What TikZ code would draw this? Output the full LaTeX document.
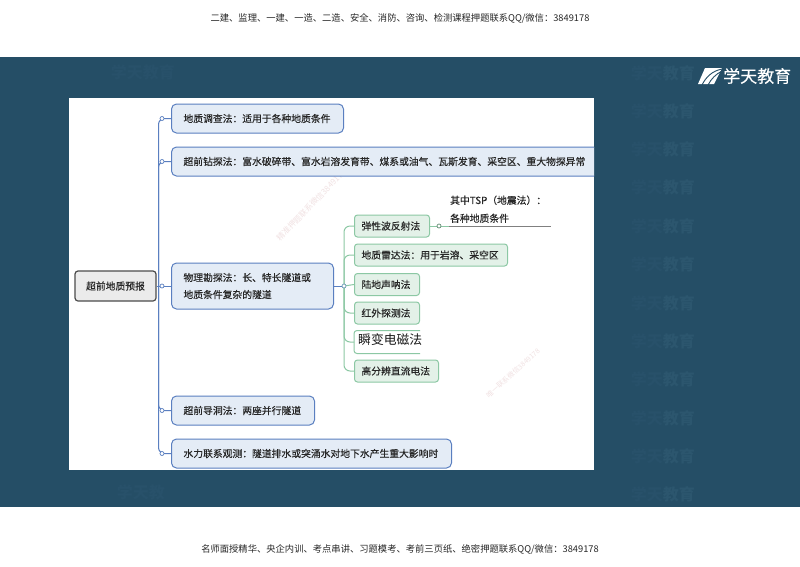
\documentclass[tikz,border=0pt]{standalone}
\usepackage{fontspec}
\usepackage{xcolor}
\setmainfont{Noto Sans CJK SC}
\newfontfamily\heavyfont[FakeBold=0.35]{Noto Sans CJK SC}
\usetikzlibrary{calc,positioning}
\definecolor{bandblue}{HTML}{254E66}
\definecolor{wmtext}{HTML}{2C566E}
\definecolor{wmfaint}{HTML}{28516A}
\definecolor{pinkmark}{HTML}{F1E2E3}
\definecolor{linkblue}{HTML}{5A7FC0}
\definecolor{fillblue}{HTML}{E4ECF6}
\definecolor{linkgreen}{HTML}{8CC8A4}
\definecolor{fillgreen}{HTML}{E3F1E8}
\definecolor{inkgray}{HTML}{262626}

\begin{document}
\begin{tikzpicture}[
    x = 1pt,
    y = -1pt,
    rootbox/.style={
        rectangle, % shape
        rounded corners = 3pt,
        minimum width = 81pt, %size
        minimum height = 30pt,
        line width = 1.2pt, %border
        draw = black!70,
        fill = black!8,%the filling
        text = inkgray,
        font=\heavyfont\fontsize{9.8}{12}\selectfont
      },
    bluebox/.style={
        rectangle,
        rounded corners = 5pt,
        minimum height = 29pt,
        inner xsep = 12pt,
        inner ysep = 2pt,
        line width = 1pt,
        draw = linkblue,
        fill = fillblue,
        text = inkgray,
        align = left,
        anchor = west,
        font=\heavyfont\fontsize{9.8}{17}\selectfont
      },
    greenbox/.style={
        rectangle,
        rounded corners = 3pt,
        minimum height = 22pt,
        inner xsep = 7pt,
        inner ysep = 1pt,
        line width = 1pt,
        draw = linkgreen,
        fill = fillgreen,
        text = inkgray,
        align = left,
        anchor = west,
        font=\heavyfont\fontsize{9.8}{12}\selectfont
      },
    bluelink/.style={draw = linkblue, line width = 1pt, rounded corners = 6pt},
    greenlink/.style={draw = linkgreen, line width = 1pt, rounded corners = 6pt},
    smalldot/.style={circle, draw, fill = white, line width = .7pt, minimum size = 4pt, inner sep = 0pt},
    watermark/.style={font=\bfseries\fontsize{16}{18}\selectfont, anchor = east, inner sep = 0pt},
    pinknote/.style={text = pinkmark, inner sep = 0pt}
  ]
  \useasboundingbox (0,0) rectangle (800,566);
  % band and panel
  \node [fill = bandblue, minimum width = 800pt, minimum height = 450pt, inner sep = 0pt] (band) at (400,282) {};
  \node [fill = white, minimum width = 525pt, minimum height = 372pt, inner sep = 0pt] (panel) at (331.5,284) {};

  % header and footer
  \node [text = black!85, font=\fontsize{9.3}{11}\selectfont] (header) at (400,18) {二建、监理、一建、一造、二造、安全、消防、咨询、检测课程押题联系QQ/微信：3849178};
  \node [text = black!85, font=\fontsize{9.3}{11}\selectfont] (footer) at (400,549) {名师面授精华、央企内训、考点串讲、习题模考、考前三页纸、绝密押题联系QQ/微信：3849178};

  % faint marks on the band
  \foreach \y in {73,111,149,187,226,264,303,341,379,418,456,494}{
    \node [watermark] (mark\y) at (695,\y) {\textcolor{wmfaint}{学天}\textcolor{wmtext}{教育}};
  }
  \node [watermark, text = wmfaint] (markA) at (175,72) {学天教育};
  \node [watermark, text = wmfaint] (markB) at (165,492) {学天教};
  \node [pinknote, rotate = 46, font=\fontsize{8}{10}\selectfont] (pinkA) at (311,205) {精准押题联系微信3849178};
  \node [pinknote, rotate = 42, font=\fontsize{7}{9}\selectfont] (pinkB) at (513,373) {唯一联系微信3849178};

  % logo
  \fill [white] (705,68) -- (722,68) -- (714,84) -- (698,84) -- cycle;
  \draw [bandblue, line width = .9pt] (722,69) .. controls (712,71) and (706,77) .. (702,85);
  \draw [bandblue, line width = .9pt] (722,71) .. controls (716,74) and (711,79) .. (708,85);
  \node [text = white, font=\heavyfont\fontsize{17}{20}\selectfont, anchor = west, inner sep = 0pt] (logo) at (723,76) {学天教育};

  % first level
  \node [rootbox] (root) at (115.5,286) {超前地质预报};
  \node [bluebox, text width = 148pt] (n1) at (171,118.5) {地质调查法：适用于各种地质条件};
  \begin{scope}
    \clip (panel.north west) rectangle (panel.south east);
    \node [bluebox, text width = 420pt] (n2) at (171,161.5) {超前钻探法：富水破碎带、富水岩溶发育带、煤系或油气、瓦斯发育、采空区、重大物探异常};
  \end{scope}
  \node [bluebox, text width = 138pt, minimum height = 46pt] (n3) at (171,286) {物理勘探法：长、特长隧道或\\地质条件复杂的隧道};
  \node [bluebox, text width = 119pt] (n4) at (171,410.5) {超前导洞法：两座并行隧道};
  \node [bluebox, text width = 256pt] (n5) at (171,453.5) {水力联系观测：隧道排水或突涌水对地下水产生重大影响时};

  \coordinate (hub) at (158.5,286);
  \draw [bluelink] (root.east) -- (n3.west);
  \foreach \n in {n1,n2,n4,n5}{
    \draw [bluelink] (hub) |- (\n.west);
  }
  \foreach \n in {n1,n2,n3,n4,n5}{
    \node [smalldot, draw = linkblue] (dot\n) at ([xshift=-9pt]\n.west) {};
  }

  % second level
  \node [greenbox, text width = 61pt] (g1) at (354,226) {弹性波反射法};
  \node [greenbox, text width = 139pt] (g2) at (354,255) {地质雷达法：用于岩溶、采空区};
  \node [greenbox, text width = 51pt] (g3) at (354,284.5) {陆地声呐法};
  \node [greenbox, text width = 51pt] (g4) at (354,313) {红外探测法};
  \node [greenbox, text width = 51pt, draw = none, fill = white] (g5) at (354,342) {};
  \node [greenbox, text width = 70pt] (g6) at (354,371) {高分辨直流电法};
  \draw [draw = linkgreen, line width = 1pt, rounded corners = 3pt] (g5.north east) -- (g5.north west) -- (g5.south west) -- (g5.south east);
  \node [anchor = west, inner sep = 0pt, text = black!90, font=\fontsize{12.8}{14}\selectfont] (g5text) at (358,340) {瞬变电磁法};

  \coordinate (greenhub) at ([xshift=10pt]n3.east);
  \draw [bluelink] (n3.east) -- (greenhub);
  \draw [greenlink] (greenhub) -- (g3.west);
  \foreach \n in {g1,g2,g4,g5,g6}{
    \draw [greenlink] (greenhub) |- (\n.west);
  }
  \node [smalldot, draw = linkblue!60!linkgreen] (dothub) at (greenhub) {};

  % note on the first green box
  \node [anchor = south west, text width = 100pt, inner xsep = 1pt, inner ysep = 3pt, text = inkgray, align = left, font=\heavyfont\fontsize{9.8}{18}\selectfont] (tsp) at (449,226) {其中TSP（地震法）：\\各种地质条件};
  \draw [draw = black!50, line width = .8pt] (tsp.south west) -- (tsp.south east);
  \draw [greenlink] (g1.east) -- (tsp.south west);
  \node [smalldot, draw = linkgreen!70!black] (dottsp) at (439,226) {};
\end{tikzpicture}
\end{document}
